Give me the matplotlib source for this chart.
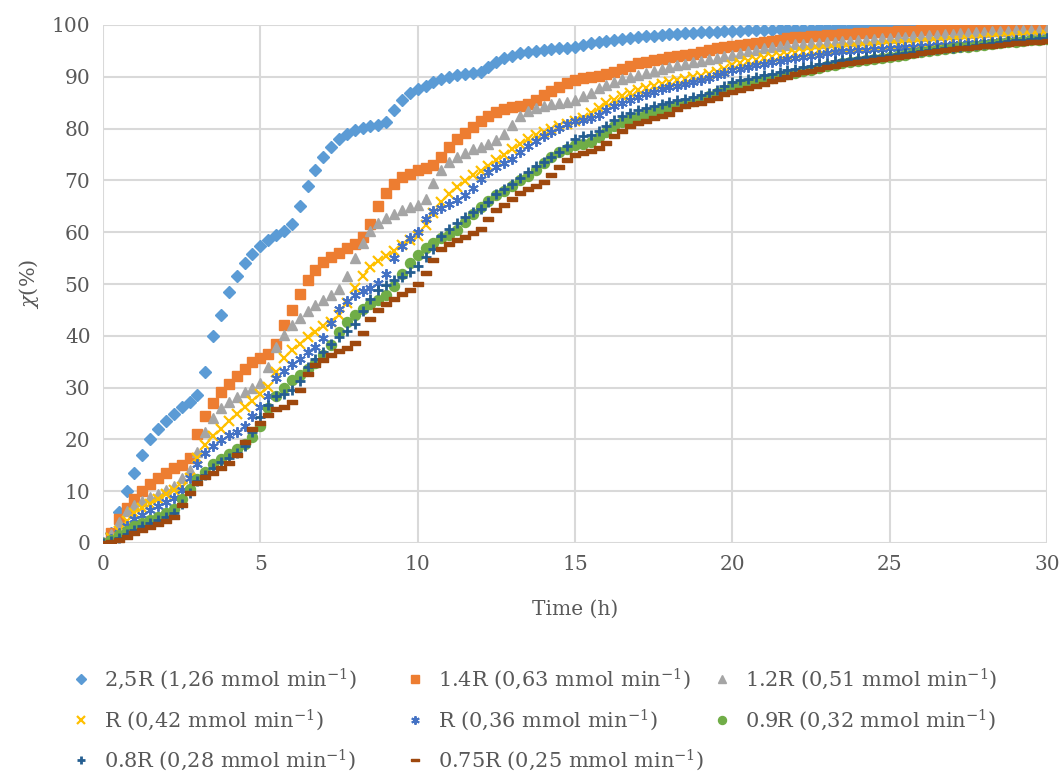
import numpy as np
import matplotlib
matplotlib.use("Agg")
import matplotlib.pyplot as plt

# time grid (h)
time_h = np.arange(0, 30.001, 0.25)

labels = [
    "2,5R (1,26 mmol min$^{-1}$)",
    "1.4R (0,63 mmol min$^{-1}$)",
    "1.2R (0,51 mmol min$^{-1}$)",
    "R (0,42 mmol min$^{-1}$)",
    "R (0,36 mmol min$^{-1}$)",
    "0.9R (0,32 mmol min$^{-1}$)",
    "0.8R (0,28 mmol min$^{-1}$)",
    "0.75R (0,25 mmol min$^{-1}$)",
]

x_2_5R = [
    0, 2, 6, 10, 13.5, 17, 20, 22, 23.5, 25, 26.3, 27.3, 28.5, 33, 40, 44, 48.5, 51.5, 54, 55.8,
    57.3, 58.5, 59.5, 60.3, 61.5, 65, 69, 72, 74.5, 76.5, 78, 79, 79.7, 80.2, 80.5, 80.7, 81.2, 83.5, 85.5, 86.8,
    87.7, 88.3, 88.9, 89.5, 90, 90.3, 90.5, 90.7, 90.9, 91.8, 92.9, 93.6, 94.1, 94.5, 94.8, 95, 95.2, 95.4, 95.5, 95.6,
    95.8, 96.2, 96.5, 96.7, 96.9, 97.1, 97.3, 97.5, 97.7, 97.8, 97.9, 98, 98.2, 98.3, 98.4, 98.5, 98.6, 98.6, 98.7, 98.8,
    98.9, 98.9, 99, 99, 99.1, 99.1, 99.2, 99.2, 99.3, 99.3, 99.3, 99.4, 99.4, 99.5, 99.5, 99.5, 99.6, 99.6, 99.6, 99.7,
    99.7, 99.7, 99.7, 99.8, 99.8, 99.8, 99.8, 99.8, 99.9, 99.9, 99.9, 99.9, 99.9, 99.9, 99.9, 100, 100, 100, 100, 100,
    100,
]
x_1_4R = [
    0, 2, 4.6, 6.8, 8.5, 10, 11.3, 12.5, 13.5, 14.5, 15, 16.5, 21, 24.5, 27, 29.2, 30.7, 32.2, 33.6, 35,
    35.8, 36.4, 38.5, 42, 45, 48, 50.7, 52.7, 54.2, 55.2, 56, 56.9, 57.7, 59, 61.5, 65, 67.6, 69.3, 70.7, 71.3,
    72, 72.4, 73, 74.5, 76.5, 78, 79.2, 80.4, 81.5, 82.5, 83.2, 83.7, 84.1, 84.4, 84.8, 85.5, 86.4, 87.3, 88.1, 88.8,
    89.4, 89.8, 90, 90.2, 90.5, 91, 91.6, 92.1, 92.6, 92.9, 93.2, 93.5, 93.8, 94, 94.2, 94.4, 94.7, 95.1, 95.5, 95.8,
    96, 96.2, 96.4, 96.6, 96.8, 97, 97.2, 97.4, 97.6, 97.7, 97.8, 97.9, 98, 98.1, 98.2, 98.3, 98.4, 98.5, 98.6, 98.6,
    98.7, 98.8, 98.9, 98.9, 99, 99.1, 99.1, 99.2, 99.3, 99.3, 99.4, 99.4, 99.5, 99.5, 99.6, 99.6, 99.7, 99.7, 99.7, 99.8,
    99.8,
]
x_1_2R = [
    0, 1.8, 4, 6.2, 7.3, 8.2, 8.8, 9.4, 10.2, 11.1, 12.5, 14, 17.5, 21.5, 24.2, 26, 27.2, 28.1, 29.1, 30,
    30.9, 34, 37.8, 40.2, 42, 43.5, 44.8, 45.9, 47, 47.8, 49, 51.5, 55, 58, 60.3, 61.8, 62.8, 63.6, 64.3, 64.8,
    65.3, 66.5, 69.5, 72, 73.6, 74.5, 75.3, 76, 76.5, 77, 77.8, 79, 80.7, 82.4, 83.4, 84, 84.4, 84.8, 85, 85.2,
    85.6, 86.2, 86.9, 87.8, 88.5, 89, 89.5, 89.9, 90.3, 90.7, 91.1, 91.5, 91.9, 92.2, 92.5, 92.8, 93.1, 93.4, 93.7, 94,
    94.3, 94.6, 94.9, 95.2, 95.5, 95.7, 95.9, 96.1, 96.3, 96.4, 96.5, 96.6, 96.7, 96.8, 96.9, 97, 97.1, 97.2, 97.3, 97.4,
    97.5, 97.6, 97.7, 97.8, 97.9, 98, 98.1, 98.2, 98.3, 98.4, 98.5, 98.6, 98.7, 98.8, 98.9, 98.9, 99, 99, 99.1, 99.1,
    99.2,
]
x_R_042 = [
    0, 1, 2.3, 4.2, 5.8, 6.8, 7.6, 8.5, 9.5, 10.2, 10.9, 12.5, 16.5, 19, 20.6, 22, 23.5, 25, 26.3, 27.5,
    28.7, 30.2, 33, 35.7, 37.2, 38.5, 39.8, 40.8, 41.8, 42.6, 44, 46.3, 49.3, 51.5, 53.2, 54.5, 55.5, 56.4, 57.5, 58.4,
    59.2, 61.3, 63.7, 65.8, 67.4, 68.7, 69.9, 71, 71.8, 72.7, 73.9, 75, 76.1, 77, 77.9, 78.7, 79.4, 80, 80.5, 80.9,
    81.4, 82, 83, 84, 84.9, 85.6, 86.3, 86.9, 87.5, 87.9, 88.3, 88.7, 89, 89.3, 89.6, 89.9, 90.2, 90.6, 91, 91.6,
    92.2, 92.6, 93, 93.3, 93.6, 93.9, 94.1, 94.3, 94.6, 94.8, 94.9, 95.1, 95.2, 95.3, 95.4, 95.5, 95.6, 95.7, 95.8, 95.9,
    96.1, 96.2, 96.3, 96.4, 96.5, 96.6, 96.7, 96.8, 96.9, 97, 97.1, 97.2, 97.3, 97.4, 97.5, 97.6, 97.7, 97.8, 97.9, 97.9,
    98,
]
x_R_036 = [
    0, 0.7, 1.9, 3.3, 4.6, 5.5, 6.4, 7.1, 7.9, 8.6, 10.3, 12.5, 15.3, 17.3, 18.7, 19.9, 20.8, 21.5, 22.6, 24.6,
    26.3, 28.3, 31.8, 33.3, 34.5, 35.6, 36.8, 37.9, 39.5, 42.5, 45.2, 46.7, 47.8, 48.6, 49.3, 50.2, 52, 55, 57.4, 58.8,
    60, 62.5, 64, 64.7, 65.4, 66.2, 67.2, 68.5, 70.2, 71.6, 72.6, 73.4, 74.2, 75.4, 76.6, 77.6, 78.5, 79.4, 80.2, 80.8,
    81.4, 81.7, 82, 82.7, 83.5, 84.3, 85, 85.6, 86.1, 86.6, 87.1, 87.6, 88, 88.3, 88.7, 89, 89.4, 89.8, 90.3, 90.8,
    91.3, 91.6, 91.9, 92.2, 92.5, 92.8, 93.1, 93.4, 93.7, 93.9, 94.1, 94.3, 94.5, 94.7, 94.9, 95, 95.1, 95.2, 95.3, 95.4,
    95.5, 95.6, 95.7, 95.8, 95.9, 96, 96.1, 96.2, 96.3, 96.4, 96.5, 96.6, 96.7, 96.8, 96.9, 97, 97.1, 97.2, 97.3, 97.3,
    97.4,
]
x_0_9R = [
    0, 0.6, 1.5, 2.3, 3.2, 3.8, 4.4, 5, 5.7, 6.6, 8.5, 10.5, 12.3, 13.8, 15.2, 16.2, 17.2, 18.2, 19.2, 20.5,
    22.5, 26, 28.4, 30, 31.4, 32.5, 33.6, 34.7, 36.2, 38.3, 40.8, 42.6, 44.1, 45.2, 46.1, 46.9, 47.9, 49.6, 51.9, 54,
    55.6, 57, 58, 58.8, 59.5, 60.5, 62, 63.5, 64.9, 66.1, 67.1, 67.9, 68.9, 70.1, 70.9, 72, 73.4, 74.5, 75.4, 76.1,
    76.8, 77.1, 77.5, 78.4, 79.4, 80.5, 81.3, 81.8, 82.3, 82.8, 83.3, 83.8, 84.2, 84.6, 85, 85.4, 85.8, 86.3, 86.8, 87.5,
    88.2, 88.5, 88.8, 89.2, 89.5, 89.8, 90.1, 90.5, 90.8, 91.1, 91.4, 91.7, 92, 92.3, 92.6, 92.8, 93, 93.3, 93.5, 93.7,
    93.9, 94.1, 94.3, 94.5, 94.7, 94.9, 95.1, 95.3, 95.5, 95.7, 95.8, 96, 96.2, 96.4, 96.5, 96.7, 96.8, 97, 97.1, 97.2,
    97.3,
]
x_0_8R = [
    0, 0.3, 0.9, 1.7, 2.5, 3.2, 3.9, 4.5, 5.1, 5.8, 7.5, 9.7, 12, 13.2, 14.5, 15.7, 16.4, 17.3, 18.8, 21.5,
    24.3, 26.6, 28.3, 28.8, 29.6, 31.3, 33.9, 35.5, 36.9, 38.5, 39.8, 40.9, 42.3, 44.8, 47.1, 48.8, 49.9, 50.7, 51.4, 52.4,
    53.5, 55.3, 56.8, 59.3, 60.7, 61.8, 63, 63.9, 64.5, 65.8, 67.3, 68.3, 69.4, 70.5, 71.6, 72.7, 73.5, 74.5, 75.5, 76.7,
    77.9, 78.5, 78.8, 79.5, 80.5, 81.6, 82.4, 83, 83.6, 84, 84.4, 84.8, 85.1, 85.5, 85.8, 86.1, 86.4, 86.9, 87.5, 88.2,
    88.9, 89.3, 89.6, 90, 90.3, 90.6, 91, 91.3, 91.5, 91.8, 92.1, 92.4, 92.7, 93, 93.2, 93.5, 93.7, 93.9, 94, 94.1,
    94.2, 94.4, 94.6, 94.8, 95, 95.2, 95.4, 95.5, 95.6, 95.8, 96, 96.2, 96.4, 96.6, 96.8, 96.9, 97.1, 97.2, 97.3, 97.4,
    97.5,
]
x_0_75R = [
    0, 0.1, 0.5, 1.1, 1.9, 2.5, 3.1, 3.7, 4.3, 5.1, 7.3, 9.6, 11.5, 12.7, 13.6, 14.4, 15.4, 16.9, 19.5, 22,
    23.2, 24.7, 25.8, 26.2, 27.2, 29.6, 32.6, 34.3, 35.4, 36.3, 37, 37.7, 38.6, 40.5, 43.3, 45, 46.2, 47.1, 48, 48.8,
    50, 52.2, 54.6, 56.7, 57.8, 58.5, 59.1, 59.8, 60.6, 62.5, 64.3, 65.2, 66.4, 67.6, 68.3, 68.9, 69.7, 71, 72.5, 73.9,
    74.9, 75.3, 75.6, 76.3, 77.3, 78.6, 79.6, 80.5, 81, 81.5, 82, 82.4, 82.9, 83.8, 84.4, 84.7, 85, 85.5, 86, 86.6,
    87, 87.4, 87.8, 88.2, 88.7, 89.1, 89.6, 90, 90.5, 90.9, 91.2, 91.5, 91.8, 92.1, 92.4, 92.6, 92.9, 93.1, 93.3, 93.5,
    93.7, 93.9, 94.1, 94.3, 94.5, 94.7, 94.9, 95.1, 95.3, 95.5, 95.6, 95.7, 95.9, 96, 96.2, 96.3, 96.5, 96.6, 96.7, 96.8,
    96.9,
]

series = [x_2_5R, x_1_4R, x_1_2R, x_R_042, x_R_036, x_0_9R, x_0_8R, x_0_75R]
colors = ["#5B9BD5", "#ED7D31", "#A5A5A5", "#FFC000", "#4472C4", "#70AD47", "#255E91", "#9E480E"]
dash = [(-1, -0.35), (1, -0.35), (1, 0.35), (-1, 0.35), (-1, -0.35)]
styles = [
    dict(marker="D", ms=6.0),
    dict(marker="s", ms=6.8),
    dict(marker="^", ms=7.4),
    dict(marker="x", ms=6.8, mew=1.6),
    dict(marker=(6, 2, 0), ms=7.6, mew=1.4),
    dict(marker="o", ms=7.2),
    dict(marker="+", ms=7.8, mew=2.0),
    dict(marker=dash, ms=7.2),
]

plt.rcParams["font.family"] = ["DejaVu Serif"]
plt.rcParams["mathtext.fontset"] = "dejavuserif"

W, H = 1062, 776
fig = plt.figure(figsize=(W / 100, H / 100), dpi=100)
ax = fig.add_axes([103 / W, 1 - 543 / H, (1047 - 103) / W, (543 - 25) / H])

handles = []
for vals, col, st, lab in zip(series, colors, styles, labels):
    h, = ax.plot(time_h, vals, linestyle="none", color=col, mfc=col, mec=col,
                 label=lab, **st)
    handles.append(h)

ax.set_xlim(0, 30)
ax.set_ylim(0, 100)
ax.set_xticks(np.arange(0, 31, 5))
ax.set_yticks(np.arange(0, 101, 10))
ax.grid(True, color="#D9D9D9", linewidth=1.5)
ax.set_axisbelow(True)
for s in ax.spines.values():
    s.set_visible(False)
ax.tick_params(length=0, labelsize=14.5, labelcolor="#595959", pad=9)
ax.set_xlabel("Time (h)", fontsize=14.5, color="#595959", labelpad=18)
ax.set_ylabel(r"$\chi$(%)", fontsize=15, color="#595959", labelpad=8)

# legend: three columns placed like the reference (row-major order)
fs = 15
fs_px = fs * 100 / 72
hl, bp = 1.0, 0.4
columns = [[0, 3, 6], [1, 4, 7], [2, 5]]
marker_x = [81, 415, 722]
top_y = 658
for col_idx, mx in zip(columns, marker_x):
    left = mx - 0.5 * hl * fs_px - bp * fs_px
    lg = fig.legend([handles[i] for i in col_idx], [labels[i] for i in col_idx],
                    loc="upper left", bbox_to_anchor=(left / W, 1 - top_y / H),
                    ncol=1, frameon=False, fontsize=fs, labelcolor="#595959",
                    handlelength=hl, handletextpad=0.6, borderpad=bp,
                    labelspacing=0.72, borderaxespad=0, markerscale=0.8)

fig.savefig("out.png", dpi=100)
